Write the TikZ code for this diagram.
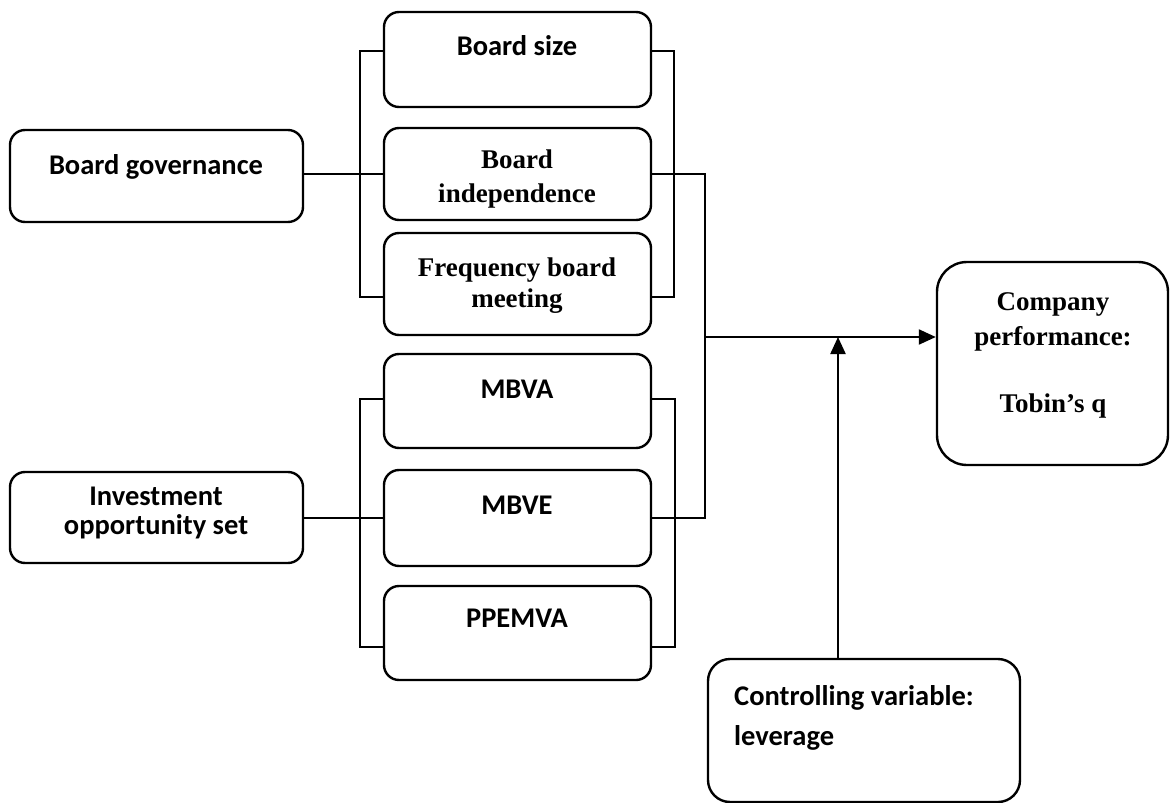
\documentclass[tikz,border=0pt]{standalone}
\usepackage{fontspec}
\newfontfamily\calibfont{Carlito}
\newfontfamily\timesfont{Liberation Serif}
\usetikzlibrary{arrows.meta}

\tikzset{
	box/.style={draw, line width=2.4pt, rounded corners=15pt, inner sep=0pt},
	sanstxt/.style={font=\calibfont\bfseries\fontsize{28.5}{29}\selectfont, align=center, inner sep=0pt},
	seriftxt/.style={font=\timesfont\bfseries\fontsize{27}{34}\selectfont, align=center, inner sep=0pt},
	link/.style={line width=2.2pt},
	arrow/.style={line width=2.2pt, -{Triangle[length=17pt,width=15pt]}}
}

\begin{document}
\begin{tikzpicture}[x=1pt, y=-1pt]
	\useasboundingbox (0,0) rectangle (1171,803);
	
	% Cajas de la izquierda
	\node[box, minimum width=293pt, minimum height=92pt] (gov) at (156.5,176) {};
	\node[box, minimum width=293pt, minimum height=91pt] (inv) at (156.5,517.5) {};
	
	% Cajas del centro
	\node[box, minimum width=267pt, minimum height=95pt] (size) at (517.5,59.5) {};
	\node[box, minimum width=267pt, minimum height=92pt] (indep) at (517.5,174) {};
	\node[box, minimum width=267pt, minimum height=102pt] (freq) at (517.5,284) {};
	\node[box, minimum width=267pt, minimum height=94pt] (mbva) at (517.5,401) {};
	\node[box, minimum width=267pt, minimum height=96pt] (mbve) at (517.5,518) {};
	\node[box, minimum width=267pt, minimum height=94pt] (ppe) at (517.5,633) {};
	
	% Cajas de la derecha
	\node[box, rounded corners=30pt, minimum width=231pt, minimum height=203pt] (comp) at (1052.5,363.5) {};
	\node[box, rounded corners=22pt, minimum width=312pt, minimum height=143pt] (ctrl) at (864,730.5) {};
	
	% Textos
	\node[sanstxt, anchor=base] (govtxt) at (156,174) {Board governance};
	\node[sanstxt] (invtxt) at (156,513) {Investment\\opportunity set};
	\node[sanstxt, anchor=base] (sizetxt) at (517,55) {Board size};
	\node[seriftxt] (indeptxt) at (517,179) {Board\\independence};
	\node[seriftxt, font=\timesfont\bfseries\fontsize{27}{31}\selectfont] (freqtxt) at (517,286) {Frequency board\\meeting};
	\node[sanstxt, anchor=base] (mbvatxt) at (517,398) {MBVA};
	\node[sanstxt, anchor=base] (mbvetxt) at (517,514) {MBVE};
	\node[sanstxt, anchor=base] (ppetxt) at (517,627) {PPEMVA};
	\node[seriftxt, font=\timesfont\bfseries\fontsize{27}{35}\selectfont] (comptxt) at (1053,355) {Company\\performance:\\[32pt]Tobin’s q};
	\node[sanstxt, align=left, anchor=west, font=\calibfont\bfseries\fontsize{28.5}{40}\selectfont] (ctrltxt) at (734,718) {Controlling variable:\\leverage};
	
	% Puntos de union
	\coordinate (hub) at (705,337);
	\coordinate (mod) at (838,337);
	
	% Corchetes
	\draw[link] ([yshift=8.5pt]size.west) -- ++(-23,0) |- ([yshift=-13pt]freq.west);
	\draw[link] ([yshift=8.5pt]size.east) -- ++(22,0) |- ([yshift=-13pt]freq.east);
	\draw[link] ([yshift=2pt]mbva.west) -- ++(-23,0) |- ([yshift=-14pt]ppe.west);
	\draw[link] ([yshift=2pt]mbva.east) -- ++(23,0) |- ([yshift=-14pt]ppe.east);
	
	% Conexiones
	\draw[link] (gov.east |- indep.west) -- (indep.west);
	\draw[link] (inv.east |- mbve.west) -- (mbve.west);
	\draw[link] (indep.east) -| (hub) |- (mbve.east);
	\draw[arrow] (hub) -- (hub -| comp.west);
	\draw[arrow] (mod |- ctrl.north) -- (mod);
	
\end{tikzpicture}
\end{document}
